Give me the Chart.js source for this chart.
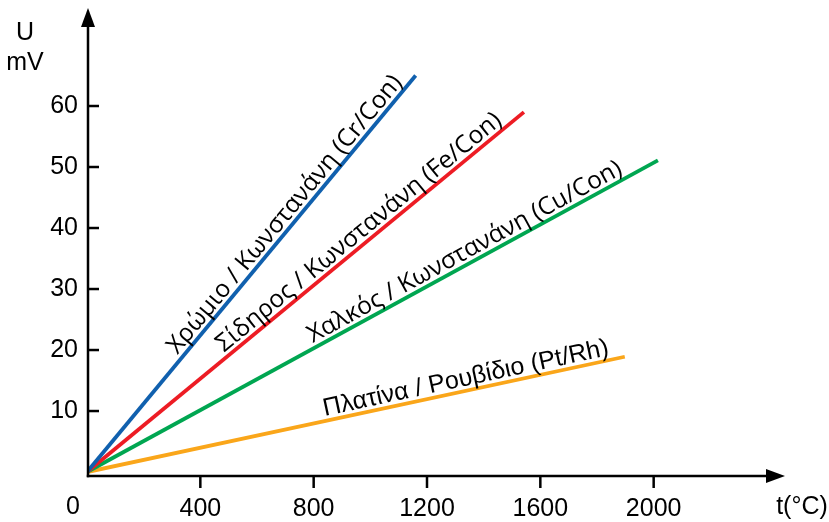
<!DOCTYPE html>
<html>
<head>
<meta charset="utf-8">
<script src="https://cdn.jsdelivr.net/npm/chart.js@4.4.1/dist/chart.umd.min.js"></script>
<style>
  html, body { margin: 0; padding: 0; background: #fff; }
  canvas { display: block; }
</style>
</head>
<body>
<canvas id="chart" width="829" height="522"></canvas>
<script>
// thermocouple voltage vs temperature
const seriesNames = [
  "Χρώμιο / Κωνστανάνη (Cr/Con)",
  "Σίδηρος / Κωνστανάνη (Fe/Con)",
  "Χαλκός / Κωνστανάνη (Cu/Con)",
  "Πλατίνα / Ρουβίδιο (Pt/Rh)",
];
const tempC = [[0, 1160], [0, 1542], [0, 2015], [0, 1898]];
const voltMv = [[0, 65], [0, 59], [0, 51.1], [0, 18.9]];
const xTicks = [400, 800, 1200, 1600, 2000];
const yTicks = [10, 20, 30, 40, 50, 60];

const colors = ["#1060ae", "#ed1c24", "#00a651", "#faa61a"];
const fontFamily = "'Liberation Sans', Arial, sans-serif";
const tickFont = "25px " + fontFamily;
// where each line label sits (temperature at its centre), and its font
const labelAt = [731, 987, 1354, 1346];
const labelFonts = [
  "24.5px 'Open Sans', sans-serif",
  "24.5px 'Open Sans', sans-serif",
  "24.5px 'Open Sans', sans-serif",
  "25px " + fontFamily,
];

const axesPlugin = {
  id: "axes",
  afterDraw(chart) {
    const { ctx, chartArea: a, scales } = chart;
    const ax = a.left + 1;
    ctx.save();
    ctx.strokeStyle = "#000";
    ctx.fillStyle = "#000";
    ctx.lineWidth = 2.5;

    // y axis + arrow
    ctx.beginPath();
    ctx.moveTo(ax, a.bottom + 1.2);
    ctx.lineTo(ax, 24);
    ctx.stroke();
    ctx.beginPath();
    ctx.moveTo(ax, 8);
    ctx.lineTo(ax - 7, 27);
    ctx.lineTo(ax + 7, 27);
    ctx.closePath();
    ctx.fill();

    // x axis + arrow
    ctx.beginPath();
    ctx.moveTo(ax - 1.2, a.bottom);
    ctx.lineTo(a.right + 2, a.bottom);
    ctx.stroke();
    ctx.beginPath();
    ctx.moveTo(a.right + 18, a.bottom);
    ctx.lineTo(a.right - 1, a.bottom - 7);
    ctx.lineTo(a.right - 1, a.bottom + 7);
    ctx.closePath();
    ctx.fill();

    // tick marks
    xTicks.forEach((v) => {
      const px = scales.x.getPixelForValue(v);
      ctx.beginPath();
      ctx.moveTo(px, a.bottom);
      ctx.lineTo(px, a.bottom + 12);
      ctx.stroke();
    });
    yTicks.forEach((v) => {
      const py = scales.y.getPixelForValue(v);
      ctx.beginPath();
      ctx.moveTo(ax, py);
      ctx.lineTo(ax + 11, py);
      ctx.stroke();
    });

    // axis titles and origin
    ctx.font = tickFont;
    ctx.textAlign = "center";
    ctx.textBaseline = "middle";
    ctx.fillText("U", 25, 33);
    ctx.fillText("mV", 25, 63);
    ctx.fillText("t(°C)", 802, 507);
    ctx.fillText("0", 73, 507);
    ctx.restore();
  },
  afterDatasetsDraw(chart) {
    const { ctx, scales } = chart;
    ctx.save();
    ctx.fillStyle = "#000";
    ctx.textAlign = "center";
    ctx.textBaseline = "alphabetic";
    seriesNames.forEach((name, i) => {
      const pts = chart.getDatasetMeta(i).data;
      const p0 = pts[0], p1 = pts[1];
      const ang = Math.atan2(p1.y - p0.y, p1.x - p0.x);
      const px = scales.x.getPixelForValue(labelAt[i]);
      const py = p0.y + (p1.y - p0.y) * (px - p0.x) / (p1.x - p0.x);
      ctx.save();
      ctx.translate(px, py);
      ctx.rotate(ang);
      ctx.font = labelFonts[i];
      ctx.fillText(name, 0, -5);
      ctx.restore();
    });
    ctx.restore();
  },
};

new Chart(document.getElementById("chart"), {
  type: "line",
  data: {
    datasets: seriesNames.map((name, i) => ({
      label: name,
      data: tempC[i].map((t, j) => ({ x: t, y: voltMv[i][j] })),
      borderColor: colors[i],
      borderWidth: 3.8,
      borderCapStyle: "butt",
      pointRadius: 0,
      fill: false,
    })),
  },
  options: {
    responsive: false,
    animation: false,
    layout: { padding: { top: 45, right: 62, left: 0, bottom: 0 } },
    plugins: { legend: { display: false }, tooltip: { enabled: false } },
    scales: {
      x: {
        type: "linear",
        min: 0,
        max: 2400,
        afterBuildTicks: (s) => { s.ticks = xTicks.map((v) => ({ value: v })); },
        afterFit: (s) => { s.height = 46; },
        grid: { display: false, drawTicks: false },
        border: { display: false },
        ticks: { color: "#000", font: { family: fontFamily, size: 25 }, padding: 18, maxRotation: 0, callback: (v) => String(v) },
      },
      y: {
        type: "linear",
        min: -0.65,
        max: 70,
        afterBuildTicks: (s) => { s.ticks = yTicks.map((v) => ({ value: v })); },
        afterFit: (s) => { s.width = 87; },
        grid: { display: false, drawTicks: false },
        border: { display: false },
        ticks: { color: "#000", font: { family: fontFamily, size: 25 }, padding: 9, callback: (v) => String(v) },
      },
    },
  },
  plugins: [axesPlugin],
});
</script>
</body>
</html>
